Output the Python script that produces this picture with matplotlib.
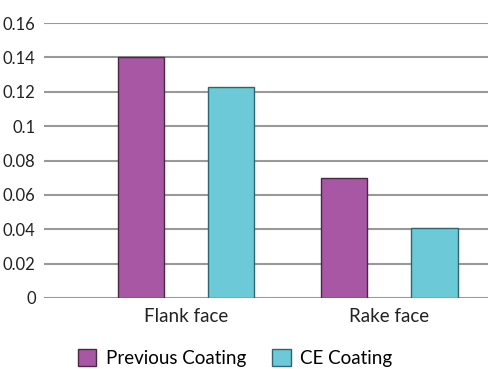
import numpy as np
import matplotlib
matplotlib.use('Agg')
import matplotlib.pyplot as plt
from matplotlib.ticker import FuncFormatter

plt.rcParams['font.family'] = ['Lato', 'DejaVu Sans']

categories = ['Flank face', 'Rake face']
previous = [0.14, 0.07]
ce = [0.123, 0.041]
series_names = ['Previous Coating', 'CE Coating']

fig = plt.figure(figsize=(4.89, 3.69), dpi=100)
ax = fig.add_axes([44/489, 1-298/369, 1-44/489, (298-23)/369])

x = np.arange(len(categories))
w = 0.227
off = 0.222
ax.bar(x - off, previous, w, color='#a857a4', edgecolor='#4a2647', linewidth=1, zorder=3, label=series_names[0])
ax.bar(x + off, ce, w, color='#6ccad8', edgecolor='#2d6670', linewidth=1, zorder=3, label=series_names[1])

ax.set_ylim(0, 0.16)
ax.set_yticks(np.arange(0, 0.161, 0.02))
ax.yaxis.set_major_formatter(FuncFormatter(lambda v, p: '%g' % round(v, 2)))
ax.set_xlim(-0.7, 1.49)
ax.set_xticks(x)
ax.set_xticklabels(categories, fontsize=13.5)
ax.grid(axis='y', color='#999999', linewidth=1.5, zorder=0)
for s in ax.spines.values():
    s.set_visible(False)
ax.tick_params(axis='y', length=0, labelsize=12, colors='#222222', pad=6)
ax.tick_params(axis='x', length=0, colors='#222222', pad=7)

fig.legend(loc='center', bbox_to_anchor=(235/489, 1-358/369), ncol=2, frameon=False,
           fontsize=13.5, handlelength=1.0, handleheight=1.0, columnspacing=1.4, handletextpad=0.5)

plt.savefig('out.png', dpi=100)
